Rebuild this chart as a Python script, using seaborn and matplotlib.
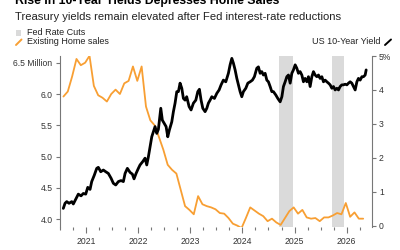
import matplotlib
matplotlib.use('Agg')
import matplotlib.pyplot as plt
import seaborn as sns
import pandas as pd
from matplotlib.lines import Line2D
from matplotlib.patches import Rectangle
from matplotlib.ticker import FixedLocator, NullFormatter

sns.set_style('white')
plt.rcParams['font.family'] = ['Liberation Sans', 'DejaVu Sans']

# ---------------- data ----------------
home_start = '2020-07'
home_end = '2026-04'
home_sales = [5.96, 6.04, 6.28, 6.56, 6.46, 6.50, 6.61, 6.13, 5.98, 5.94, 5.88, 6.00,
              6.07, 6.00, 6.17, 6.21, 6.44, 6.21, 6.44, 5.80, 5.58, 5.50, 5.31, 5.11,
              4.87, 4.79, 4.73, 4.47, 4.21, 4.15, 4.08, 4.37, 4.24, 4.21, 4.19, 4.16,
              4.10, 4.09, 4.02, 3.93, 3.90, 3.86, 4.02, 4.19, 4.14, 4.09, 4.05, 3.97,
              4.01, 3.95, 3.91, 4.02, 4.13, 4.19, 4.09, 4.15, 4.03, 4.01, 4.02, 3.97,
              4.03, 4.03, 4.06, 4.10, 4.08, 4.26, 4.04, 4.11, 4.01, 4.01]

yield_time = [2020.564, 2020.597, 2020.630, 2020.674, 2020.726, 2020.756, 2020.802, 2020.852,
              2020.904, 2020.948, 2020.994, 2021.033, 2021.077, 2021.109, 2021.159, 2021.205,
              2021.236, 2021.282, 2021.332, 2021.378, 2021.428, 2021.480, 2021.524, 2021.570,
              2021.620, 2021.672, 2021.716, 2021.749, 2021.793, 2021.845, 2021.889, 2021.921,
              2021.960, 2022.004, 2022.036, 2022.088, 2022.132, 2022.165, 2022.196, 2022.228,
              2022.261, 2022.292, 2022.324, 2022.357, 2022.388, 2022.434, 2022.464, 2022.497,
              2022.536, 2022.568, 2022.599, 2022.645, 2022.676, 2022.708, 2022.741, 2022.772,
              2022.804, 2022.837, 2022.868, 2022.900, 2022.931, 2022.977, 2023.015, 2023.060,
              2023.106, 2023.144, 2023.175, 2023.207, 2023.240, 2023.284, 2023.317, 2023.347,
              2023.380, 2023.413, 2023.463, 2023.509, 2023.553, 2023.591, 2023.635, 2023.681,
              2023.731, 2023.764, 2023.797, 2023.827, 2023.860, 2023.893, 2023.923, 2023.956,
              2023.988, 2024.019, 2024.065, 2024.104, 2024.148, 2024.192, 2024.230, 2024.276,
              2024.307, 2024.340, 2024.372, 2024.403, 2024.436, 2024.468, 2024.499, 2024.532,
              2024.564, 2024.595, 2024.641, 2024.679, 2024.724, 2024.757, 2024.787, 2024.820,
              2024.852, 2024.883, 2024.916, 2024.948, 2024.979, 2025.012, 2025.044, 2025.075,
              2025.107, 2025.140, 2025.171, 2025.203, 2025.236, 2025.267, 2025.299, 2025.332,
              2025.363, 2025.395, 2025.428, 2025.459, 2025.491, 2025.524, 2025.555, 2025.587,
              2025.620, 2025.651, 2025.683, 2025.716, 2025.747, 2025.779, 2025.812, 2025.843,
              2025.875, 2025.907, 2025.939, 2025.971, 2026.004, 2026.035, 2026.067, 2026.099,
              2026.131, 2026.163, 2026.196, 2026.226, 2026.259, 2026.292, 2026.323, 2026.355,
              2026.374]
yield_pct = [0.51, 0.66, 0.71, 0.66, 0.71, 0.64, 0.78, 0.93,
             0.88, 0.95, 0.93, 1.13, 1.07, 1.30, 1.49, 1.69,
             1.72, 1.59, 1.64, 1.59, 1.54, 1.40, 1.25, 1.20,
             1.30, 1.33, 1.30, 1.54, 1.69, 1.57, 1.52, 1.38,
             1.54, 1.69, 1.79, 1.89, 1.99, 1.79, 2.03, 2.33,
             2.62, 2.77, 2.92, 2.72, 2.84, 3.46, 3.11, 3.02,
             2.92, 2.62, 2.82, 3.06, 3.36, 3.61, 3.95, 3.95,
             4.20, 4.05, 3.75, 3.70, 3.80, 3.51, 3.41, 3.61,
             3.70, 3.95, 4.02, 3.70, 3.46, 3.36, 3.46, 3.61,
             3.70, 3.80, 3.75, 3.90, 4.00, 4.15, 4.29, 4.24,
             4.49, 4.74, 4.93, 4.79, 4.59, 4.34, 4.15, 3.95,
             3.80, 3.95, 4.05, 4.20, 4.24, 4.29, 4.39, 4.64,
             4.68, 4.49, 4.54, 4.44, 4.49, 4.29, 4.24, 4.10,
             3.95, 3.95, 3.85, 3.75, 3.65, 3.80, 4.10, 4.24,
             4.39, 4.44, 4.20, 4.49, 4.59, 4.74, 4.64, 4.49,
             4.54, 4.44, 4.24, 4.34, 4.24, 4.39, 4.10, 4.39,
             4.54, 4.44, 4.39, 4.44, 4.34, 4.39, 4.24, 4.29,
             4.24, 4.20, 4.15, 4.05, 4.10, 4.00, 4.05, 4.00,
             4.10, 4.15, 4.15, 4.17, 4.15, 4.20, 4.24, 4.20,
             4.10, 4.00, 4.24, 4.34, 4.29, 4.39, 4.39, 4.44,
             4.59]

cut_start = [2024.70, 2025.72]
cut_end = [2024.97, 2025.945]

year_ticks = [2021, 2022, 2023, 2024, 2025, 2026]
year_labels = ['2021', '2022', '2023', '2024', '2025', '2026']
left_ticks = [4.0, 4.5, 5.0, 5.5, 6.0, 6.5]
left_labels = ['4.0', '4.5', '5.0', '5.5', '6.0', '6.5 Million']
right_ticks = [0, 1, 2, 3, 4, 5]
right_labels = ['0', '1', '2', '3', '4', '5%']

# ---------------- frames ----------------
months = pd.period_range(home_start, home_end, freq='M')
home_df = pd.DataFrame({'t': [p.year + (p.month - 0.2) / 12 for p in months],
                        'sales': home_sales})
yield_df = pd.DataFrame({'t': yield_time, 'y': yield_pct})

ORANGE = '#F89F33'
GREY = '#DADADA'
TXT = '#333333'
SPINE = '#777777'

fig = plt.figure(figsize=(4, 2.5), dpi=100)
ax = fig.add_axes([59.5 / 400, 1 - 227 / 250, (372 - 59.5) / 400, (227 - 56) / 250])
ax2 = ax.twinx()

for s, e in zip(cut_start, cut_end):
    ax.axvspan(s, e, color=GREY, lw=0, zorder=0)

sns.lineplot(data=home_df, x='t', y='sales', ax=ax, color=ORANGE, lw=1.3, zorder=3)
sns.lineplot(data=yield_df, x='t', y='y', ax=ax2, color='black', lw=2.0, zorder=3)

ax.set_xlim(2020.491, 2026.486)
ax.set_ylim(3.877, 6.607)
ax2.set_ylim(-0.038, 5.0)

for a in (ax, ax2):
    a.set_xlabel('')
    a.set_ylabel('')
    a.grid(False)
    a.set_facecolor('none')
    for sp in a.spines.values():
        sp.set_visible(False)

ax.spines['left'].set_visible(True)
ax.spines['left'].set_color(SPINE)
ax.spines['left'].set_linewidth(0.8)
ax2.spines['right'].set_visible(True)
ax2.spines['right'].set_color(SPINE)
ax2.spines['right'].set_linewidth(0.8)

ax.set_yticks(left_ticks)
ax.set_yticklabels(left_labels)
ax2.set_yticks(right_ticks)
ax2.set_yticklabels(right_labels)

ax.set_xticks(year_ticks)
ax.set_xticklabels(year_labels)
ax.xaxis.set_minor_locator(FixedLocator([y + q / 4 for y in range(2020, 2027) for q in range(4)]))
ax.xaxis.set_minor_formatter(NullFormatter())

ax.tick_params(axis='y', which='major', left=True, length=3, width=0.8, color=SPINE,
               labelsize=6.2, labelcolor=TXT, pad=2)
ax2.tick_params(axis='y', which='major', right=True, length=3, width=0.8, color=SPINE,
                labelsize=6.2, labelcolor=TXT, pad=2)
ax.tick_params(axis='x', which='major', bottom=True, direction='out', length=4, width=0.8,
               color=SPINE, labelsize=6.2, labelcolor=TXT, pad=3)
ax.tick_params(axis='x', which='minor', bottom=True, direction='out', length=2, width=0.8,
               color=SPINE)

# ---------------- texts & legend ----------------
fig.text(15 / 400, 1 - 4 / 250, 'Rise in 10-Year Yields Depresses Home Sales',
         fontsize=8.8, fontweight='bold', color='black', va='baseline')
fig.text(15 / 400, 1 - 20 / 250, 'Treasury yields remain elevated after Fed interest-rate reductions',
         fontsize=8.1, color='#222222', va='baseline')

fig.patches.append(Rectangle((16 / 400, 1 - 35.5 / 250), 5 / 400, 5 / 250,
                             transform=fig.transFigure, color=GREY, lw=0))
fig.text(27 / 400, 1 - 32.5 / 250, 'Fed Rate Cuts', fontsize=6.5, color='#222222', va='center')
fig.lines.append(Line2D([16 / 400, 21.5 / 400], [1 - 45 / 250, 1 - 39.5 / 250],
                        transform=fig.transFigure, color=ORANGE, lw=1.4))
fig.text(27 / 400, 1 - 42 / 250, 'Existing Home sales', fontsize=6.5, color='#222222', va='center')
fig.text(380 / 400, 1 - 42 / 250, 'US 10-Year Yield', fontsize=6.5, color='#222222',
         va='center', ha='right')
fig.lines.append(Line2D([385 / 400, 391 / 400], [1 - 45 / 250, 1 - 39.5 / 250],
                        transform=fig.transFigure, color='black', lw=1.4))

fig.savefig('out.png', dpi=100)
